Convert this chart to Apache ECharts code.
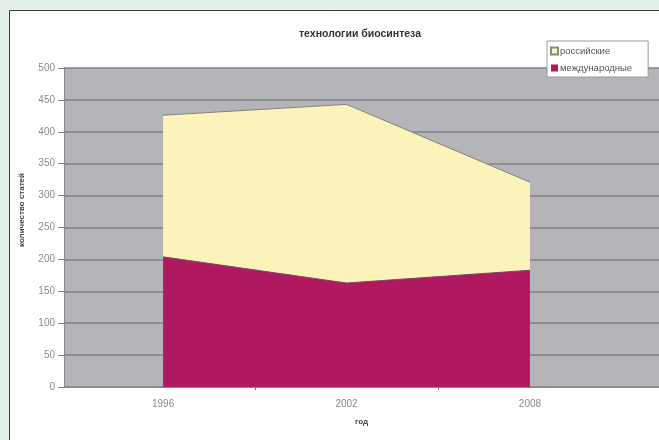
<!DOCTYPE html>
<html>
<head>
<meta charset="utf-8">
<script src="https://cdn.jsdelivr.net/npm/echarts@6/dist/echarts.min.js"></script>
<style>
  html, body { margin: 0; padding: 0; }
  #chart { width: 659px; height: 440px; }
</style>
</head>
<body>
<div id="chart"></div>
<script>
// данные графика
const years = [1996, 2002, 2008];
const international = [204, 163, 183];   // международные
const russian = [222, 280, 138];         // российские (сверху)
const yearTicks = [1999, 2005];
const seriesNames = ['российские', 'международные'];

const chart = echarts.init(document.getElementById('chart'));

// накопленная вершина: российские лежат поверх международных
const toPairs = arr => arr.map((v, i) => [years[i], v]);
const totalPairs = russian.map((v, i) => [years[i], v + international[i]]);

const option = {
  animation: false,
  backgroundColor: '#e4f2ea',
  textStyle: { fontFamily: 'Liberation Sans, Arial, sans-serif' },
  graphic: [
    {
      type: 'rect',
      z: -10,
      shape: { x: 9.5, y: 10.5, width: 660, height: 440 },
      style: { fill: '#ffffff', stroke: '#3a3a3a', lineWidth: 1 }
    }
  ],
  title: {
    text: 'технологии биосинтеза',
    left: 355,
    top: 24,
    textAlign: 'center',
    textStyle: { fontSize: 10.5, fontWeight: 'bold', color: '#333' }
  },
  legend: {
    data: seriesNames,
    orient: 'vertical',
    left: 547,
    top: 41,
    itemWidth: 7,
    itemHeight: 7,
    itemGap: 7,
    padding: [5, 16, 4, 3],
    borderColor: '#9a9a9a',
    borderWidth: 1,
    backgroundColor: '#ffffff',
    icon: 'rect',
    textStyle: { fontSize: 9.5, color: '#555', padding: [0, 0, 0, -3] }
  },
  grid: {
    left: 64,
    top: 68,
    right: 0,
    bottom: 53,
    show: true,
    backgroundColor: '#b4b4b9',
    borderWidth: 0
  },
  xAxis: {
    type: 'value',
    min: 1992.76,
    max: 2012.22,
    name: 'год',
    nameLocation: 'middle',
    nameGap: 31,
    nameTextStyle: { fontSize: 8, color: '#444', fontWeight: 'bold' },
    axisLine: { show: true, lineStyle: { color: '#8a8a8a' } },
    axisTick: {
      show: true,
      customValues: yearTicks,
      length: 3,
      lineStyle: { color: '#777' }
    },
    axisLabel: {
      customValues: years,
      fontSize: 10,
      color: '#888',
      margin: 12,
      formatter: v => String(v)
    },
    splitLine: { show: false }
  },
  yAxis: {
    type: 'value',
    min: 0,
    max: 500,
    interval: 50,
    name: 'количество статей',
    nameLocation: 'middle',
    nameGap: 38,
    nameRotate: 90,
    nameTextStyle: { fontSize: 8, color: '#444', fontWeight: 'bold', padding: [0, 0, 0, 35] },
    axisLine: { show: true, lineStyle: { color: '#8a8a8a' } },
    axisTick: { show: true, length: 6, lineStyle: { color: '#888' } },
    axisLabel: { fontSize: 10, color: '#8a8a8a', margin: 9 },
    splitLine: { show: true, lineStyle: { color: '#818187', width: 1.5 } }
  },
  series: [
    {
      name: 'российские',
      type: 'line',
      symbol: 'none',
      data: totalPairs,
      lineStyle: { color: '#808084', width: 1 },
      itemStyle: { color: '#fbf3b9', borderColor: '#888', borderWidth: 1 },
      areaStyle: { color: '#fbf3b9', opacity: 1 },
      z: 2
    },
    {
      name: 'международные',
      type: 'line',
      symbol: 'none',
      data: toPairs(international),
      lineStyle: { color: '#7a4a60', width: 1 },
      itemStyle: { color: '#b01862' },
      areaStyle: { color: '#b01862', opacity: 1 },
      z: 3
    }
  ]
};

chart.setOption(option);
</script>
</body>
</html>
